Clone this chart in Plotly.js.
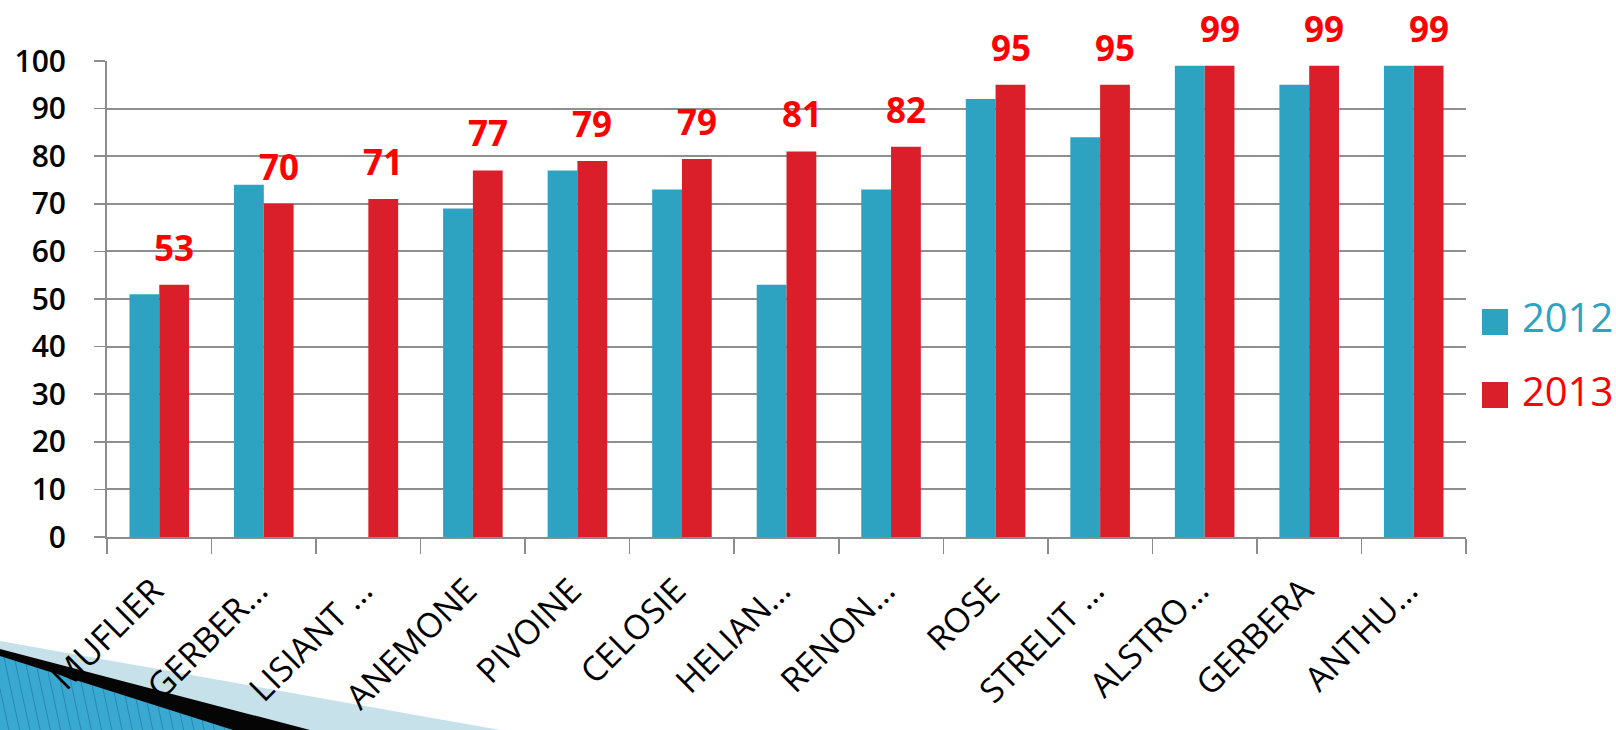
<!DOCTYPE html>
<html>
<head>
<meta charset="utf-8">
<script src="https://cdn.plot.ly/plotly-3.0.1.min.js"></script>
<style>html,body{margin:0;padding:0;background:#fff;}#chart{width:1616px;height:730px;}</style>
</head>
<body>
<div id="chart"></div>
<script>
const categories = ["MUFLIER","GERBER…","LISIANT …","ANEMONE","PIVOINE","CELOSIE","HELIAN…","RENON…","ROSE","STRELIT …","ALSTRO…","GERBERA","ANTHU…"];
const values2012 = [51, 74, null, 69, 77, 73, 53, 73, 92, 84, 99, 95, 99];
const values2013 = [53, 70, 71, 77, 79, 79.4, 81, 82, 95, 95, 99, 99, 99];
const seriesNames = ["2012", "2013"];
const yTicks = [0,10,20,30,40,50,60,70,80,90,100];

const BLUE = "#2ea3c1", RED = "#da1f2b", LABEL_RED = "#ff0000";
const W = 1616, H = 730, L = 107, R = 150, T = 61, B = 193;
const pw = W - L - R, ph = H - T - B;
const px = x => (x - L) / pw, py = y => (H - B - y) / ph;

const traces = [
  {type:"bar", name:seriesNames[0], x:categories, y:values2012, marker:{color:BLUE}, showlegend:false, hoverinfo:"x+y"},
  {type:"bar", name:seriesNames[1], x:categories, y:values2013, marker:{color:RED}, showlegend:false, hoverinfo:"x+y"}
];

const annotations = categories.map((c, i) => ({
  x: c, y: values2013[i], xref:"x", yref:"y", text: String(Math.round(values2013[i])),
  showarrow:false, xanchor:"center", yanchor:"bottom", xshift:15, yshift:12,
  font:{family:"Open Sans", size:35, color:LABEL_RED, weight:700}
}));
// legend text
const legendColors = [BLUE, LABEL_RED];
const legendY = [316.7, 390];
seriesNames.forEach((n, i) => {
  annotations.push({xref:"paper", yref:"paper", x:px(1520), y:py(legendY[i]), xanchor:"left", yanchor:"middle",
    text:n, showarrow:false, font:{family:"Open Sans", size:40, color:legendColors[i]}});
});

const shapes = [];
const sqColors = [BLUE, RED];
const sqTop = [309, 382];
sqColors.forEach((c, i) => {
  shapes.push({type:"rect", xref:"paper", yref:"paper", x0:px(1482), x1:px(1508), y0:py(sqTop[i]), y1:py(sqTop[i]+26), fillcolor:c, line:{width:0}, layer:"above"});
});
function path(pts){ return "M" + pts.map(p => px(p[0]) + "," + py(p[1])).join(" L") + " Z"; }
// bottom-left slide decoration
shapes.push({type:"path", xref:"paper", yref:"paper", path:path([[0,641],[500,730],[0,730]]), fillcolor:"rgba(185,218,230,0.8)", line:{width:0}, layer:"below"});
shapes.push({type:"path", xref:"paper", yref:"paper", path:path([[0,649],[310,730],[0,730]]), fillcolor:"#050505", line:{width:0}, layer:"below"});
shapes.push({type:"path", xref:"paper", yref:"paper", path:path([[0,656],[233,730],[0,730]]), fillcolor:"#3aa9d2", line:{width:0}, layer:"below"});
// stripes inside the blue wedge
for (let sx = -40; sx < 233; sx += 11) {
  let topX = sx, topY = 656 + 0.317 * sx;
  if (sx < 0) { topX = 0; topY = 656 + (-sx) * 70 / 15; if (topY >= 730) continue; }
  const botX = topX + (730 - topY) * 15 / 70;
  shapes.push({type:"line", xref:"paper", yref:"paper", x0:px(topX), y0:py(topY), x1:px(botX), y1:py(730), line:{color:"rgba(20,95,135,0.45)", width:1}, layer:"below"});
}

const layout = {
  width:W, height:H, margin:{l:L, r:R, t:T, b:B},
  paper_bgcolor:"#fff", plot_bgcolor:"#fff",
  barmode:"group", bargap:0.43, bargroupgap:0,
  font:{family:"Open Sans", color:"#000"},
  xaxis:{type:"category", tickson:"boundaries", ticks:"outside", ticklen:15, tickwidth:1.5, tickcolor:"#8c8c8c",
    showline:true, linecolor:"#8c8c8c", linewidth:2, showgrid:false, tickangle:-45,
    tickfont:{family:"Open Sans", size:34, color:"#000", weight:500}, ticklabelstandoff:18, ticklabelshift:-6, automargin:false},
  yaxis:{range:[0,100], tickvals:yTicks, ticktext:yTicks.map(String), ticks:"outside", ticklen:11, tickwidth:1.5, tickcolor:"#8c8c8c",
    showline:true, linecolor:"#8c8c8c", linewidth:2, showgrid:true, gridcolor:"#8f8f8f", gridwidth:2, zeroline:false,
    tickfont:{family:"Open Sans", size:30, color:"#000", weight:600}, ticklabelstandoff:22, automargin:false},
  annotations:annotations, shapes:shapes, showlegend:false
};
Plotly.newPlot("chart", traces, layout, {displayModeBar:false, staticPlot:true});
</script>
</body>
</html>
